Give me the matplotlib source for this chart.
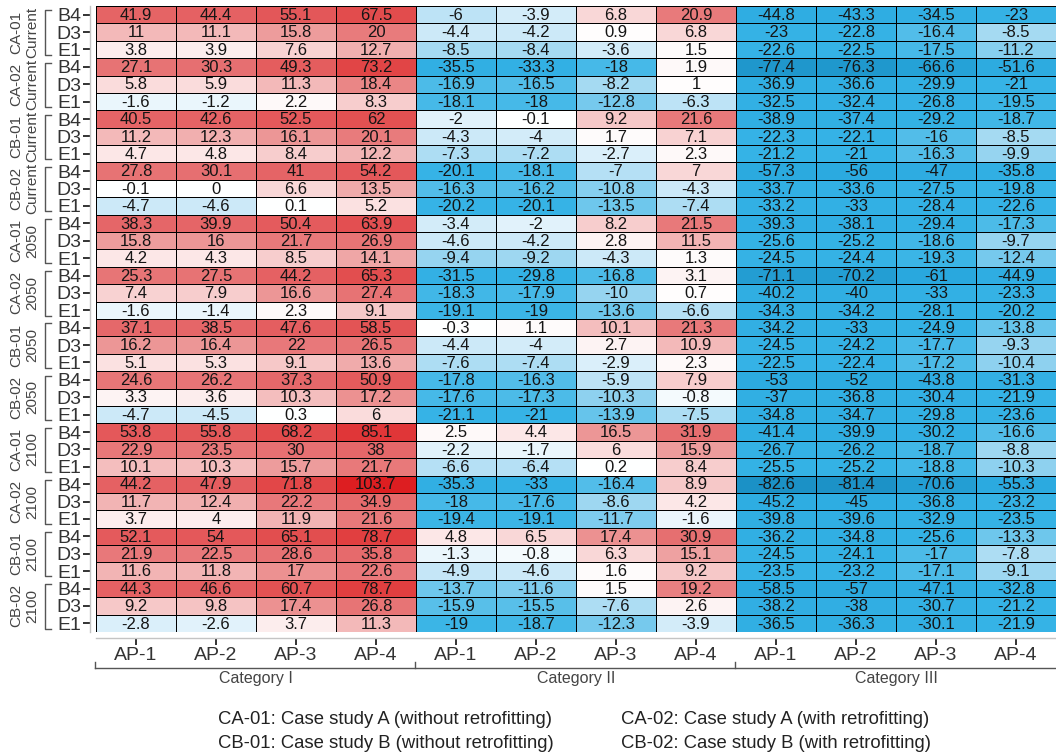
import numpy as np
import matplotlib
matplotlib.use("Agg")
from matplotlib import pyplot as plt
from matplotlib.colors import LinearSegmentedColormap, Normalize
from matplotlib.transforms import blended_transform_factory
from matplotlib.lines import Line2D

plt.rcParams['font.family'] = ['Liberation Sans', 'DejaVu Sans']

# column labels (3 categories x 4 AP levels)
ap_labels = ['AP-1', 'AP-2', 'AP-3', 'AP-4']
categories = ['Category I', 'Category II', 'Category III']
metrics = ['B4', 'D3', 'E1']
cases = ['CA-01', 'CA-02', 'CB-01', 'CB-02']
periods = ['Current', '2050', '2100']

# rows go case by case inside each period, then B4/D3/E1
values = [
    # CA-01 Current
    [41.9, 44.4, 55.1, 67.5, -6, -3.9, 6.8, 20.9, -44.8, -43.3, -34.5, -23],
    [11, 11.1, 15.8, 20, -4.4, -4.2, 0.9, 6.8, -23, -22.8, -16.4, -8.5],
    [3.8, 3.9, 7.6, 12.7, -8.5, -8.4, -3.6, 1.5, -22.6, -22.5, -17.5, -11.2],
    # CA-02 Current
    [27.1, 30.3, 49.3, 73.2, -35.5, -33.3, -18, 1.9, -77.4, -76.3, -66.6, -51.6],
    [5.8, 5.9, 11.3, 18.4, -16.9, -16.5, -8.2, 1, -36.9, -36.6, -29.9, -21],
    [-1.6, -1.2, 2.2, 8.3, -18.1, -18, -12.8, -6.3, -32.5, -32.4, -26.8, -19.5],
    # CB-01 Current
    [40.5, 42.6, 52.5, 62, -2, -0.1, 9.2, 21.6, -38.9, -37.4, -29.2, -18.7],
    [11.2, 12.3, 16.1, 20.1, -4.3, -4, 1.7, 7.1, -22.3, -22.1, -16, -8.5],
    [4.7, 4.8, 8.4, 12.2, -7.3, -7.2, -2.7, 2.3, -21.2, -21, -16.3, -9.9],
    # CB-02 Current
    [27.8, 30.1, 41, 54.2, -20.1, -18.1, -7, 7, -57.3, -56, -47, -35.8],
    [-0.1, 0, 6.6, 13.5, -16.3, -16.2, -10.8, -4.3, -33.7, -33.6, -27.5, -19.8],
    [-4.7, -4.6, 0.1, 5.2, -20.2, -20.1, -13.5, -7.4, -33.2, -33, -28.4, -22.6],
    # CA-01 2050
    [38.3, 39.9, 50.4, 63.9, -3.4, -2, 8.2, 21.5, -39.3, -38.1, -29.4, -17.3],
    [15.8, 16, 21.7, 26.9, -4.6, -4.2, 2.8, 11.5, -25.6, -25.2, -18.6, -9.7],
    [4.2, 4.3, 8.5, 14.1, -9.4, -9.2, -4.3, 1.3, -24.5, -24.4, -19.3, -12.4],
    # CA-02 2050
    [25.3, 27.5, 44.2, 65.3, -31.5, -29.8, -16.8, 3.1, -71.1, -70.2, -61, -44.9],
    [7.4, 7.9, 16.6, 27.4, -18.3, -17.9, -10, 0.7, -40.2, -40, -33, -23.3],
    [-1.6, -1.4, 2.3, 9.1, -19.1, -19, -13.6, -6.6, -34.3, -34.2, -28.1, -20.2],
    # CB-01 2050
    [37.1, 38.5, 47.6, 58.5, -0.3, 1.1, 10.1, 21.3, -34.2, -33, -24.9, -13.8],
    [16.2, 16.4, 22, 26.5, -4.4, -4, 2.7, 10.9, -24.5, -24.2, -17.7, -9.3],
    [5.1, 5.3, 9.1, 13.6, -7.6, -7.4, -2.9, 2.3, -22.5, -22.4, -17.2, -10.4],
    # CB-02 2050
    [24.6, 26.2, 37.3, 50.9, -17.8, -16.3, -5.9, 7.9, -53, -52, -43.8, -31.3],
    [3.3, 3.6, 10.3, 17.2, -17.6, -17.3, -10.3, -0.8, -37, -36.8, -30.4, -21.9],
    [-4.7, -4.5, 0.3, 6, -21.1, -21, -13.9, -7.5, -34.8, -34.7, -29.8, -23.6],
    # CA-01 2100
    [53.8, 55.8, 68.2, 85.1, 2.5, 4.4, 16.5, 31.9, -41.4, -39.9, -30.2, -16.6],
    [22.9, 23.5, 30, 38, -2.2, -1.7, 6, 15.9, -26.7, -26.2, -18.7, -8.8],
    [10.1, 10.3, 15.7, 21.7, -6.6, -6.4, 0.2, 8.4, -25.5, -25.2, -18.8, -10.3],
    # CA-02 2100
    [44.2, 47.9, 71.8, 103.7, -35.3, -33, -16.4, 8.9, -82.6, -81.4, -70.6, -55.3],
    [11.7, 12.4, 22.2, 34.9, -18, -17.6, -8.6, 4.2, -45.2, -45, -36.8, -23.2],
    [3.7, 4, 11.9, 21.6, -19.4, -19.1, -11.7, -1.6, -39.8, -39.6, -32.9, -23.5],
    # CB-01 2100
    [52.1, 54, 65.1, 78.7, 4.8, 6.5, 17.4, 30.9, -36.2, -34.8, -25.6, -13.3],
    [21.9, 22.5, 28.6, 35.8, -1.3, -0.8, 6.3, 15.1, -24.5, -24.1, -17, -7.8],
    [11.6, 11.8, 17, 22.6, -4.9, -4.6, 1.6, 9.2, -23.5, -23.2, -17.1, -9.1],
    # CB-02 2100
    [44.3, 46.6, 60.7, 78.7, -13.7, -11.6, 1.5, 19.2, -58.5, -57, -47.1, -32.8],
    [9.2, 9.8, 17.4, 26.8, -15.9, -15.5, -7.6, 2.6, -38.2, -38, -30.7, -21.2],
    [-2.8, -2.6, 3.7, 11.3, -19, -18.7, -12.3, -3.9, -36.5, -36.3, -30.1, -21.9],
]
legend_lines = [
    ('CA-01: Case study A (without retrofitting)', 'CA-02: Case study A (with retrofitting)'),
    ('CB-01: Case study B (without retrofitting)', 'CB-02: Case study B (with retrofitting)'),
]

data = np.array(values)
n_rows, n_cols = data.shape

# diverging scale: blue saturates early, red keeps darkening
vmin, vmax = -85, 105
stops = [(-85, '#1a8fc4'), (-60, '#2aa9df'), (-20, '#36b3e6'), (-15, '#5ec1ea'),
         (-10, '#93d3f0'), (-5, '#c8e7f7'), (-2, '#e4f3fb'), (0, '#ffffff'),
         (2, '#fefafa'), (5, '#fbe2e2'), (10, '#f4c0c0'), (15, '#eea0a0'),
         (20, '#e87b7c'), (40, '#e56567'), (70, '#e24a4b'), (105, '#dd1d20')]
cmap = LinearSegmentedColormap.from_list(
    'div', [((v - vmin) / (vmax - vmin), c) for v, c in stops])
norm = Normalize(vmin, vmax)

W, H = 1056, 754
fig = plt.figure(figsize=(W / 100, H / 100), dpi=100)
x0, x1, y_top, y_bot = 96, 1056, 6, 632
ax = fig.add_axes([x0 / W, 1 - y_bot / H, (x1 - x0) / W, (y_bot - y_top) / H])

ax.pcolormesh(np.arange(n_cols + 1), np.arange(n_rows + 1), data, cmap=cmap, norm=norm,
              edgecolors='#000000', linewidth=0.6)
ax.set_xlim(0, n_cols)
ax.set_ylim(n_rows, 0)

for i in range(n_rows):
    for j in range(n_cols):
        ax.text(j + 0.5, i + 0.54, f'{data[i, j]:g}', ha='center', va='center',
                fontsize=12, color='#151515')

# axis styling
for side in ['top', 'right']:
    ax.spines[side].set_visible(False)
for side in ['left', 'bottom']:
    ax.spines[side].set_position(('outward', 4))
    ax.spines[side].set_color('#c4c4c4')
    ax.spines[side].set_linewidth(1.0)

ax.set_xticks(np.arange(n_cols) + 0.5)
ax.set_xticklabels(ap_labels * len(categories))
ax.set_yticks(np.arange(n_rows) + 0.5)
ax.set_yticklabels(metrics * (n_rows // 3))
ax.tick_params(axis='both', length=5, width=1.4, color='#333333', labelcolor='#333333',
               labelsize=14)
ax.tick_params(axis='x', pad=1.5)
ax.tick_params(axis='y', pad=1.5)

# group brackets and labels on the left
tr_y = blended_transform_factory(fig.transFigure, ax.transData)
groups = [(c, p) for p in periods for c in cases]
for g, (case, period) in enumerate(groups):
    top, bot = 3 * g + 0.25, 3 * g + 2.8
    xb, xe = 45 / W, 51 / W
    ax.add_line(Line2D([xe, xb, xb, xe], [top, top, bot, bot], transform=tr_y,
                       color='#555555', linewidth=1.0, clip_on=False))
    ax.text(16 / W, 3 * g + 1.5, case, transform=tr_y, rotation=90,
            ha='center', va='center', fontsize=11, color='#444444')
    ax.text(32 / W, 3 * g + 1.5, period, transform=tr_y, rotation=90,
            ha='center', va='center', fontsize=11, color='#444444')

# category brackets under the column labels
tr_x = blended_transform_factory(ax.transData, fig.transFigure)
yb = 1 - 668 / H
ax.add_line(Line2D([-0.01, n_cols], [yb, yb], transform=tr_x, color='#555555',
                   linewidth=1.0, clip_on=False))
for k, cat in enumerate(categories):
    ax.add_line(Line2D([4 * k - 0.01, 4 * k - 0.01], [yb, yb + 6 / H], transform=tr_x,
                       color='#555555', linewidth=1.0, clip_on=False))
    ax.text(4 * k + 2, 1 - 679 / H, cat, transform=tr_x, ha='center', va='center',
            fontsize=11.5, color='#444444')

# case legend
for r, (left, right) in enumerate(legend_lines):
    y = 1 - (719 + 25 * r) / H
    fig.text(218 / W, y, left, ha='left', va='center', fontsize=13.3, color='#222222')
    fig.text(621 / W, y, right, ha='left', va='center', fontsize=13.3, color='#222222')

fig.savefig('out.png', dpi=100)
